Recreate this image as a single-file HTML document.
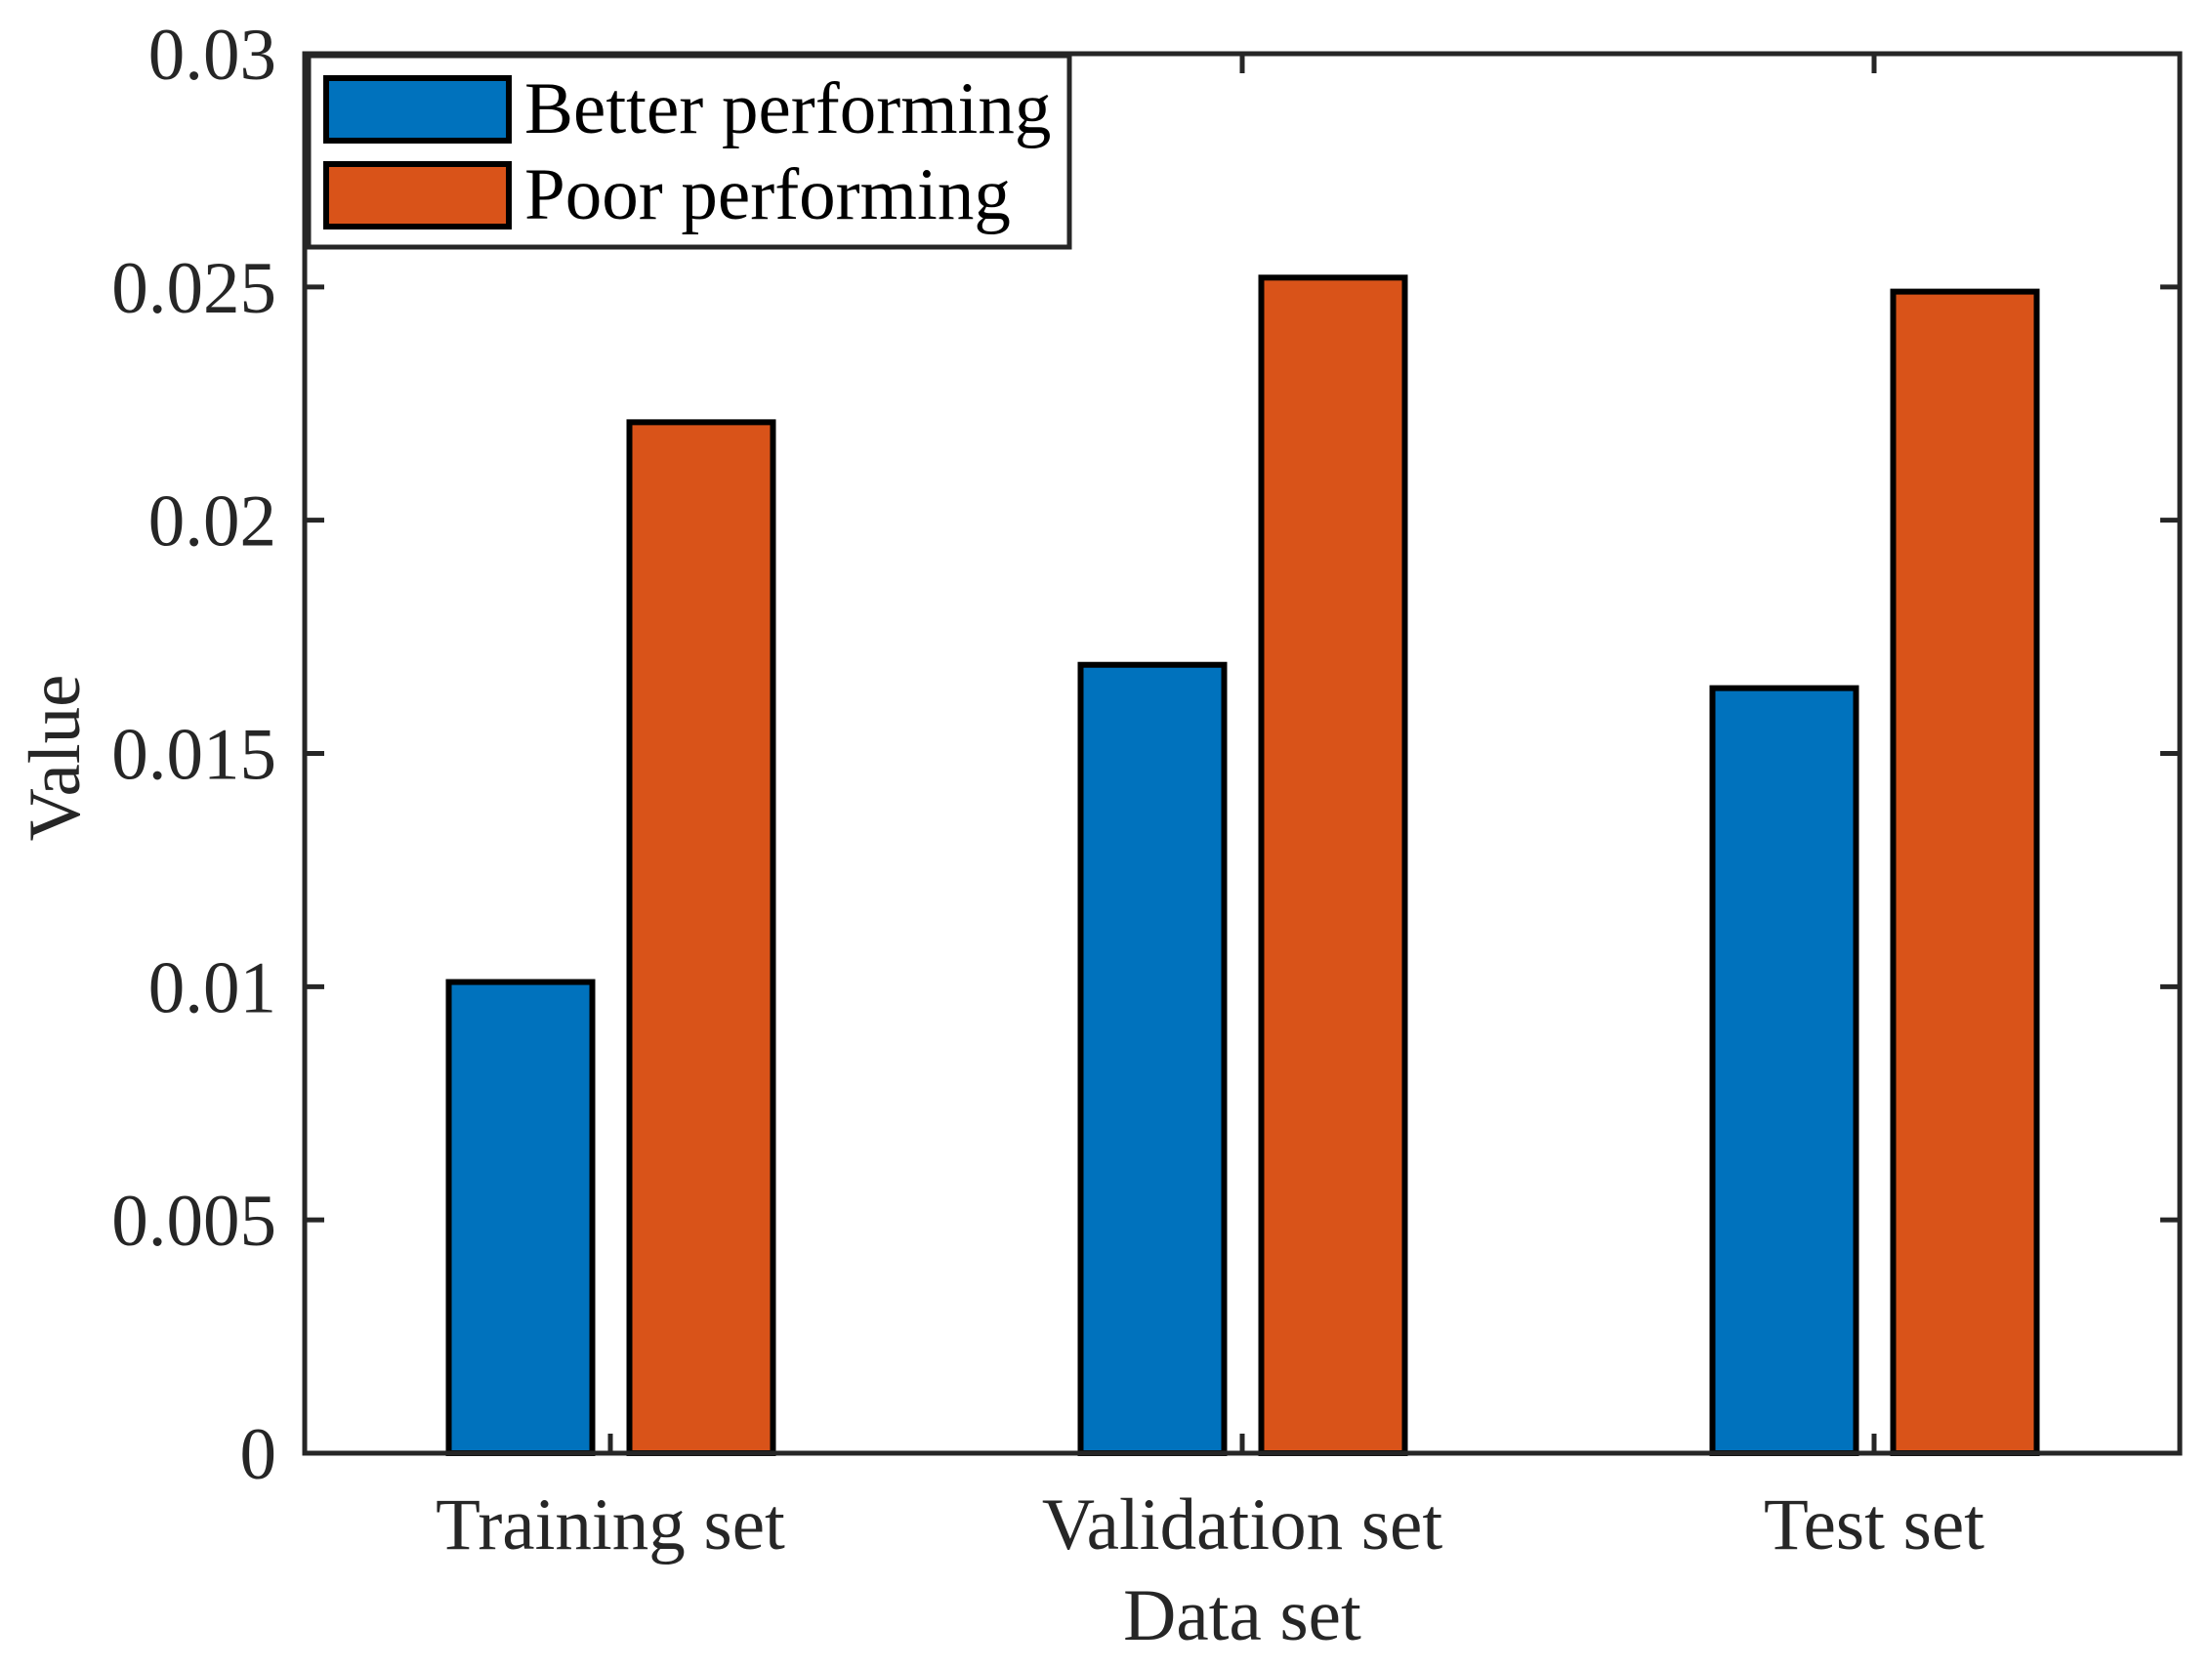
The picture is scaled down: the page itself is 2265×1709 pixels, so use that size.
<!DOCTYPE html>
<html><head><meta charset="utf-8"><style>
html,body{margin:0;padding:0;background:#fff;}
svg{display:block;font-family:"Liberation Serif",serif;}
</style></head><body>
<svg id="chart" width="2265" height="1709" viewBox="0 0 2265 1709" xmlns="http://www.w3.org/2000/svg">
<rect x="0" y="0" width="2265" height="1709" fill="#fff"/>
<g id="bars"></g>
<g id="axes"></g>
<g id="legend">
  <rect x="316" y="57" width="779" height="196" fill="#fff" stroke="#262626" stroke-width="5"/>
  <rect x="334" y="80" width="187" height="64" fill="#0072BD" stroke="#000" stroke-width="6"/>
  <text x="537" y="136" font-size="75" fill="#000">Better performing</text>
  <rect x="334" y="168" width="187" height="64" fill="#D95319" stroke="#000" stroke-width="6"/>
  <text x="537" y="224" font-size="75" fill="#000">Poor performing</text>
</g>
<text x="1272" y="1679" font-size="75" fill="#262626" text-anchor="middle">Data set</text>
<text x="0" y="0" font-size="75" fill="#262626" text-anchor="middle" transform="translate(81,776) rotate(-90)">Value</text>
</svg>
<script>
const categories = ["Training set", "Validation set", "Test set"];
const betterValues = [0.0101, 0.0169, 0.0164];
const poorValues = [0.0221, 0.0252, 0.0249];
const yTicks = [0, 0.005, 0.01, 0.015, 0.02, 0.025, 0.03];
const yTickLabels = ["0", "0.005", "0.01", "0.015", "0.02", "0.025", "0.03"];

const NS = "http://www.w3.org/2000/svg";
const L = 312, R = 2232, T = 55, B = 1488;
const yMax = 0.03;
function yScale(v){ return B - (v / yMax) * (B - T); }
function xScale(i){ return 625 + i * 647; }
const barW = 147;

function mk(tag, attrs, parent){
  const el = document.createElementNS(NS, tag);
  for (const k in attrs) el.setAttribute(k, attrs[k]);
  parent.appendChild(el);
  return el;
}
const bars = document.getElementById('bars');
const axes = document.getElementById('axes');

categories.forEach((c, i) => {
  const cx = xScale(i);
  const yb = yScale(betterValues[i]);
  const b = mk('rect', {x: cx - 92 - barW/2, y: yb, width: barW, height: B - yb, fill: '#0072BD', stroke: '#000', 'stroke-width': 6}, bars);
  
  
  const yp = yScale(poorValues[i]);
  const p = mk('rect', {x: cx + 93 - barW/2, y: yp, width: barW, height: B - yp, fill: '#D95319', stroke: '#000', 'stroke-width': 6}, bars);
  
  
  const t1 = mk('line', {x1: cx, x2: cx, y1: B, y2: B - 20, stroke: '#262626', 'stroke-width': 5}, axes);
  
  
  const t2 = mk('line', {x1: cx, x2: cx, y1: T, y2: T + 20, stroke: '#262626', 'stroke-width': 5}, axes);
  
  
  const lbl = mk('text', {x: cx, y: 1586, 'font-size': 75, fill: '#262626', 'text-anchor': 'middle'}, axes);
  lbl.textContent = c;
  
  
});

yTicks.forEach((v, i) => {
  const y = yScale(v);
  const a = mk('line', {x1: L, x2: L + 20, y1: y, y2: y, stroke: '#262626', 'stroke-width': 5}, axes);
  
  
  const b = mk('line', {x1: R, x2: R - 20, y1: y, y2: y, stroke: '#262626', 'stroke-width': 5}, axes);
  
  
  const t = mk('text', {x: 283, y: y + 26, 'font-size': 75, fill: '#262626', 'text-anchor': 'end'}, axes);
  t.textContent = yTickLabels[i];
  
  
});

const frame = mk('rect', {x: L, y: T, width: R - L, height: B - T, fill: 'none', stroke: '#262626', 'stroke-width': 5}, axes);


document.getElementById('chart').appendChild(document.getElementById('legend'));
</script>
</body></html>
